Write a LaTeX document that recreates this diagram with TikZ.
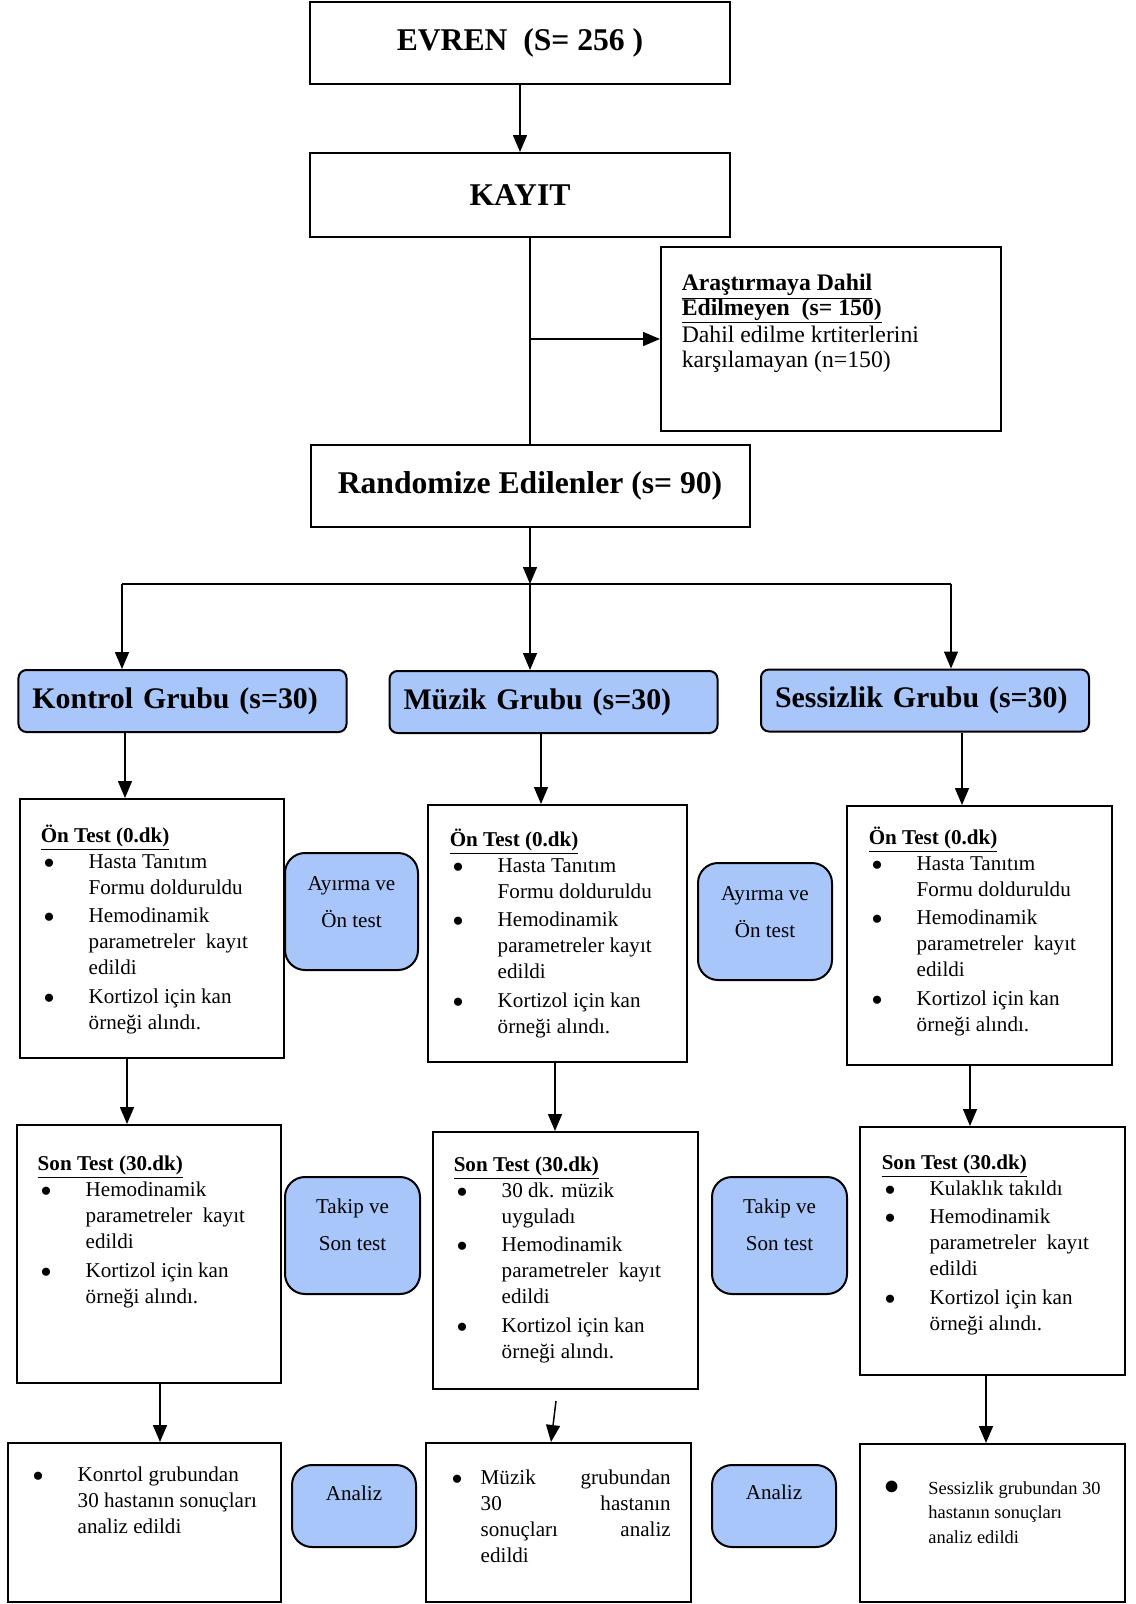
\documentclass[tikz,border=0pt]{standalone}
\usepackage{fontspec}
\setmainfont{Liberation Serif}
\usetikzlibrary{arrows.meta}
\definecolor{grupmavi}{RGB}{168,198,250}
\newcommand{\bul}{\hspace*{1.8pt}\makebox[25.5pt][l]{$\bullet$}}
\newcommand{\cnt}{\hspace*{27.3pt}}

\begin{document}
\begin{tikzpicture}[x=0.2mm,y=-0.2mm,line width=0.3mm,
    >={Triangle[length=3.4mm,width=2.8mm]},
    kutu/.style={
% The shape:
rectangle,
% The border:
draw, line width=0.4mm,
},
    baslik/.style={
kutu,
% The text:
font=\fontsize{18}{22}\selectfont\bfseries,
},
    grup/.style={
% The shape:
rectangle, rounded corners=1.6mm,
% The size:
minimum height=12.4mm, text width=60mm, inner xsep=2.8mm,
% The border:
draw, line width=0.4mm, fill=grupmavi,
% The text:
align=left, font=\fontsize{17}{20}\selectfont\bfseries,
},
    yan/.style={
% The shape:
rectangle, rounded corners=4mm,
% The border:
draw, line width=0.4mm, fill=grupmavi,
},
    yazi/.style={
anchor=base west, inner sep=0pt, align=left,
font=\fontsize{12}{14.8}\selectfont,
},
    yanyazi/.style={
anchor=base, inner sep=0pt, align=center,
font=\fontsize{12}{21}\selectfont,
},
]
  \useasboundingbox (0,0) rectangle (1136,1604);

  % top of the flow
  \node[baslik, minimum width=84mm, minimum height=16.4mm]
    (evren) at (520, 43) {EVREN\ \ (S= 256 )};
  \node[baslik, minimum width=84mm, minimum height=16.8mm]
    (kayit) at (520, 195) {KAYIT};
  \node[kutu, minimum width=68mm, minimum height=36.8mm] (dahil) at (831, 339) {};
  \node[yazi, font=\fontsize{13.5}{14.2}\selectfont] (dahiltxt) at (681, 367)
    {\underline{\textbf{Araştırmaya Dahil}}\\[-1.5pt]
     \underline{\textbf{Edilmeyen\ \ (s= 150)}}\\
     Dahil edilme krtiterlerini\\
     karşılamayan (n=150)};
  \node[baslik, minimum width=87.8mm, minimum height=16.4mm]
    (random) at (530, 486) {Randomize Edilenler (s= 90)};

  % groups
  \node[grup] (kontrol) at (182.5, 701) {Kontrol Grubu (s=30)};
  \node[grup] (muzikg)  at (553.5, 702) {Müzik Grubu (s=30)};
  \node[grup] (sessiz)  at (925, 700.5) {Sessizlik Grubu (s=30)};

  % Kontrol column
  \node[kutu, minimum width=52.8mm, minimum height=51.8mm] (ontest1) at (152, 928.5) {};
  \node[yazi] (ontest1txt) at (40, 1029)
    {\underline{\textbf{Ön Test (0.dk)}}\\
     \bul Hasta Tanıtım\\ \cnt Formu dolduruldu\\[1.4pt]
     \bul Hemodinamik\\ \cnt parametreler\ \ kayıt\\ \cnt edildi\\[1.4pt]
     \bul Kortizol için kan\\ \cnt örneği alındı.};
  \node[yan, minimum width=26.6mm, minimum height=23.4mm] (ayirma1) at (351.5, 911.5) {};
  \node[yanyazi] (ayirma1txt) at (351.5, 927) {Ayırma ve\\Ön test};
  \node[kutu, minimum width=52.8mm, minimum height=51.6mm] (sontest1) at (149, 1254) {};
  \node[yazi] (sontest1txt) at (37, 1303)
    {\underline{\textbf{Son Test (30.dk)}}\\
     \bul Hemodinamik\\ \cnt parametreler\ \ kayıt\\ \cnt edildi\\[1.4pt]
     \bul Kortizol için kan\\ \cnt örneği alındı.};
  \node[yan, minimum width=27mm, minimum height=23.4mm] (takip1) at (352.5, 1235.5) {};
  \node[yanyazi] (takip1txt) at (352.5, 1250) {Takip ve\\Son test};
  \node[kutu, minimum width=54.6mm, minimum height=31.8mm] (sonuc1) at (144.5, 1522.5) {};
  \node[yazi] (sonuc1txt) at (29, 1533)
    {\bul Konrtol grubundan\\ \cnt 30 hastanın sonuçları\\ \cnt analiz edildi};
  \node[yan, minimum width=24.8mm, minimum height=16.4mm] (analiz1) at (354, 1506) {};
  \node[yanyazi] (analiz1txt) at (354, 1500) {Analiz};

  % Muzik column
  \node[kutu, minimum width=51.8mm, minimum height=51.4mm] (ontest2) at (557.5, 933.5) {};
  \node[yazi] (ontest2txt) at (449, 1033)
    {\underline{\textbf{Ön Test (0.dk)}}\\
     \bul Hasta Tanıtım\\ \cnt Formu dolduruldu\\[1.4pt]
     \bul Hemodinamik\\ \cnt parametreler kayıt\\ \cnt edildi\\[1.4pt]
     \bul Kortizol için kan\\ \cnt örneği alındı.};
  \node[yan, minimum width=26.8mm, minimum height=23.4mm] (ayirma2) at (765, 921.5) {};
  \node[yanyazi] (ayirma2txt) at (765, 937) {Ayırma ve\\Ön test};
  \node[kutu, minimum width=53mm, minimum height=51.4mm] (sontest2) at (565.5, 1260.5) {};
  \node[yazi] (sontest2txt) at (453, 1358)
    {\underline{\textbf{Son Test (30.dk)}}\\
     \bul 30 dk. müzik\\ \cnt uyguladı\\[1.4pt]
     \bul Hemodinamik\\ \cnt parametreler\ \ kayıt\\ \cnt edildi\\[1.4pt]
     \bul Kortizol için kan\\ \cnt örneği alındı.};
  \node[yan, minimum width=27mm, minimum height=23.4mm] (takip2) at (779.5, 1235.5) {};
  \node[yanyazi] (takip2txt) at (779.5, 1250) {Takip ve\\Son test};
  \node[kutu, minimum width=53mm, minimum height=31.8mm] (sonuc2) at (558.5, 1522.5) {};
  \node[yazi] (sonuc2txt) at (448, 1484)
    {\hspace*{1.8pt}\makebox[16.4pt][l]{$\bullet$}\parbox[t]{38mm}{Müzik\hfill grubundan\\
     30\hfill hastanın\\ sonuçları\hfill analiz\\ edildi}};
  \node[yan, minimum width=24.8mm, minimum height=16.4mm] (analiz2) at (774, 1506) {};
  \node[yanyazi] (analiz2txt) at (774, 1499) {Analiz};

  % Sessizlik column
  \node[kutu, minimum width=53mm, minimum height=51.8mm] (ontest3) at (979.5, 935.5) {};
  \node[yazi] (ontest3txt) at (868, 1031)
    {\underline{\textbf{Ön Test (0.dk)}}\\
     \bul Hasta Tanıtım\\ \cnt Formu dolduruldu\\[1.4pt]
     \bul Hemodinamik\\ \cnt parametreler\ \ kayıt\\ \cnt edildi\\[1.4pt]
     \bul Kortizol için kan\\ \cnt örneği alındı.};
  \node[kutu, minimum width=53mm, minimum height=49.6mm] (sontest3) at (992.5, 1251) {};
  \node[yazi] (sontest3txt) at (881, 1330)
    {\underline{\textbf{Son Test (30.dk)}}\\
     \bul Kulaklık takıldı\\[1.4pt]
     \bul Hemodinamik\\ \cnt parametreler\ \ kayıt\\ \cnt edildi\\[1.4pt]
     \bul Kortizol için kan\\ \cnt örneği alındı.};
  \node[kutu, minimum width=53mm, minimum height=31.6mm] (sonuc3) at (992.5, 1523) {};
  \node[yazi, font=\fontsize{10.5}{13.7}\selectfont] (sonuc3txt) at (884, 1543)
    {\makebox[24.8pt][l]{\fontsize{16}{16}\selectfont$\bullet$}Sessizlik grubundan 30\\
     \hspace*{24.8pt}hastanın sonuçları\\ \hspace*{24.8pt}analiz edildi};

  % connectors
  \coordinate (dal) at (530, 584);
  \coordinate (dalsol) at (122, 584);
  \coordinate (dalsag) at (951, 584);
  \coordinate (kopuk) at (556, 1401);

  \draw [->] (evren) -- (kayit);
  \draw (random.north |- kayit.south) -- (random.north);
  \draw [->] (random.north |- dahil.west) -- (dahil.west);
  \draw [->] (random.south) -- (dal);
  \draw (dalsol) -- (dalsag);
  \draw [->] (dalsol) -- (dalsol |- kontrol.north);
  \draw [->] (dal) -- (dal |- muzikg.north);
  \draw [->] (dalsag) -- (dalsag |- sessiz.north);

  \draw [->] (125,0 |- kontrol.south) -- (125,0 |- ontest1.north);
  \draw [->] (127,0 |- ontest1.south) -- (127,0 |- sontest1.north);
  \draw [->] (160,0 |- sontest1.south) -- (160,0 |- sonuc1.north);
  \draw [->] (541,0 |- muzikg.south) -- (541,0 |- ontest2.north);
  \draw [->] (555,0 |- ontest2.south) -- (555,0 |- sontest2.north);
  \draw [->] (kopuk) -- (551,0 |- sonuc2.north);
  \draw [->] (962,0 |- sessiz.south) -- (962,0 |- ontest3.north);
  \draw [->] (970,0 |- ontest3.south) -- (970,0 |- sontest3.north);
  \draw [->] (986,0 |- sontest3.south) -- (986,0 |- sonuc3.north);

\end{tikzpicture}
\end{document}
